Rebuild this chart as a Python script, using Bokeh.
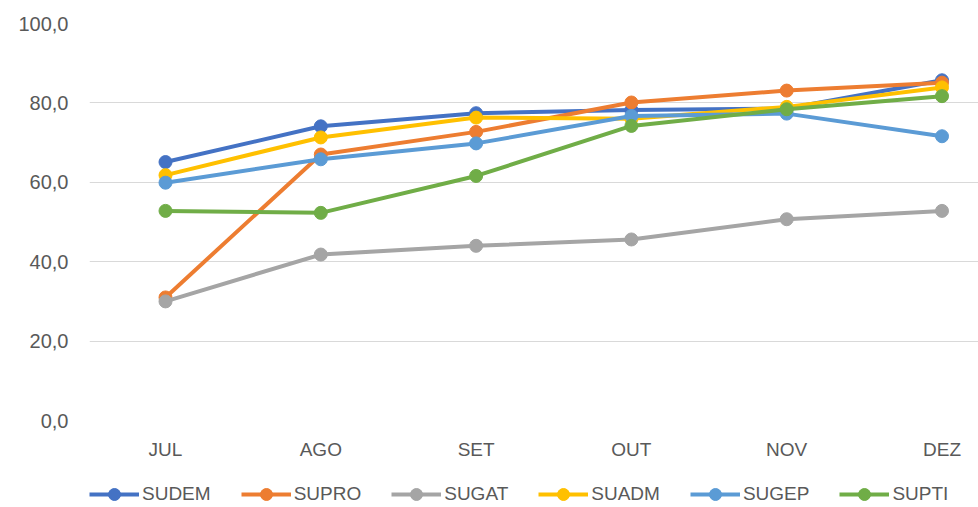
from bokeh.plotting import figure
from bokeh.layouts import column
from bokeh.models import Range1d, FixedTicker, CustomJSTickFormatter, Legend, LegendItem
from bokeh.embed import file_html
from bokeh.resources import INLINE

months = ["JUL", "AGO", "SET", "OUT", "NOV", "DEZ"]
series_names = ["SUDEM", "SUPRO", "SUGAT", "SUADM", "SUGEP", "SUPTI"]
sudem = [65.1, 74.1, 77.4, 78.2, 78.6, 85.7]
supro = [31.0, 67.0, 72.7, 80.1, 83.1, 85.1]
sugat = [30.0, 41.8, 44.0, 45.6, 50.7, 52.8]
suadm = [61.8, 71.3, 76.3, 76.0, 79.0, 83.9]
sugep = [59.9, 65.8, 69.8, 76.7, 77.3, 71.6]
supti = [52.8, 52.3, 61.6, 74.2, 78.4, 81.7]
y_ticks = [0, 20, 40, 60, 80, 100]

colors = ["#4472C4", "#ED7D31", "#A5A5A5", "#FFC000", "#5B9BD5", "#70AD47"]
all_series = [sudem, supro, sugat, suadm, sugep, supti]

x_idx = list(range(len(months)))

p = figure(width=978, height=470, min_border_left=89, min_border_right=0,
           min_border_top=23, min_border_bottom=50,
           x_range=Range1d(-0.4894, 5.235), y_range=Range1d(0, 100),
           output_backend="svg", toolbar_location=None,
           background_fill_color="white", border_fill_color="white")
p.outline_line_color = None

FONT = "Liberation Sans"
TXT = "#595959"

p.xaxis.ticker = FixedTicker(ticks=x_idx)
p.xaxis.major_label_overrides = {i: m for i, m in zip(x_idx, months)}
p.yaxis.ticker = FixedTicker(ticks=y_ticks)
p.yaxis.formatter = CustomJSTickFormatter(code="return tick.toFixed(1).replace('.', ',');")
for ax in (p.xaxis[0], p.yaxis[0]):
    ax.axis_line_color = None
    ax.major_tick_line_color = None
    ax.minor_tick_line_color = None
    ax.major_tick_in = 0
    ax.major_tick_out = 0
    ax.minor_tick_in = 0
    ax.minor_tick_out = 0
    ax.major_label_text_font = FONT
    ax.major_label_text_color = TXT
p.yaxis.major_label_text_font_size = "20px"
p.yaxis.major_label_standoff = 21
p.xaxis.major_label_text_font_size = "19px"
p.xaxis.major_label_standoff = 18

p.xgrid.grid_line_color = None
p.ygrid.ticker = FixedTicker(ticks=y_ticks)
p.ygrid.grid_line_color = "#D9D9D9"
p.ygrid.grid_line_width = 1

for vals, c in zip(all_series, colors):
    p.line(x_idx, vals, line_color=c, line_width=4)
    p.scatter(x_idx, vals, size=13, fill_color=c, line_color=c)

# legend strip below the chart; its renderers use the same series but the
# view range keeps them out of sight, so only the legend entries show
lg = figure(width=978, height=37, min_border_left=89, min_border_right=0,
            min_border_top=0, min_border_bottom=0,
            x_range=Range1d(-0.4894, 5.235), y_range=Range1d(-20, -10),
            x_axis_location=None, y_axis_location=None,
            output_backend="svg", toolbar_location=None,
            background_fill_color="white", border_fill_color="white")
lg.outline_line_color = None
lg.xgrid.grid_line_color = None
lg.ygrid.grid_line_color = None

items = []
for name, vals, c in zip(series_names, all_series, colors):
    r1 = lg.line(x_idx, vals, line_color=c, line_width=4)
    r2 = lg.scatter(x_idx, vals, size=13, fill_color=c, line_color=c)
    items.append(LegendItem(label=name, renderers=[r1, r2]))

legend = Legend(items=items, orientation="horizontal", location=(0, -2),
                glyph_width=50, glyph_height=30, label_standoff=3, spacing=30,
                label_text_font=FONT, label_text_font_size="19px", label_text_color=TXT,
                border_line_color=None, background_fill_alpha=0, padding=0, margin=0)
lg.add_layout(legend, "center")

layout = column(p, lg, spacing=0)
open("out.html", "w").write(file_html(layout, INLINE))
